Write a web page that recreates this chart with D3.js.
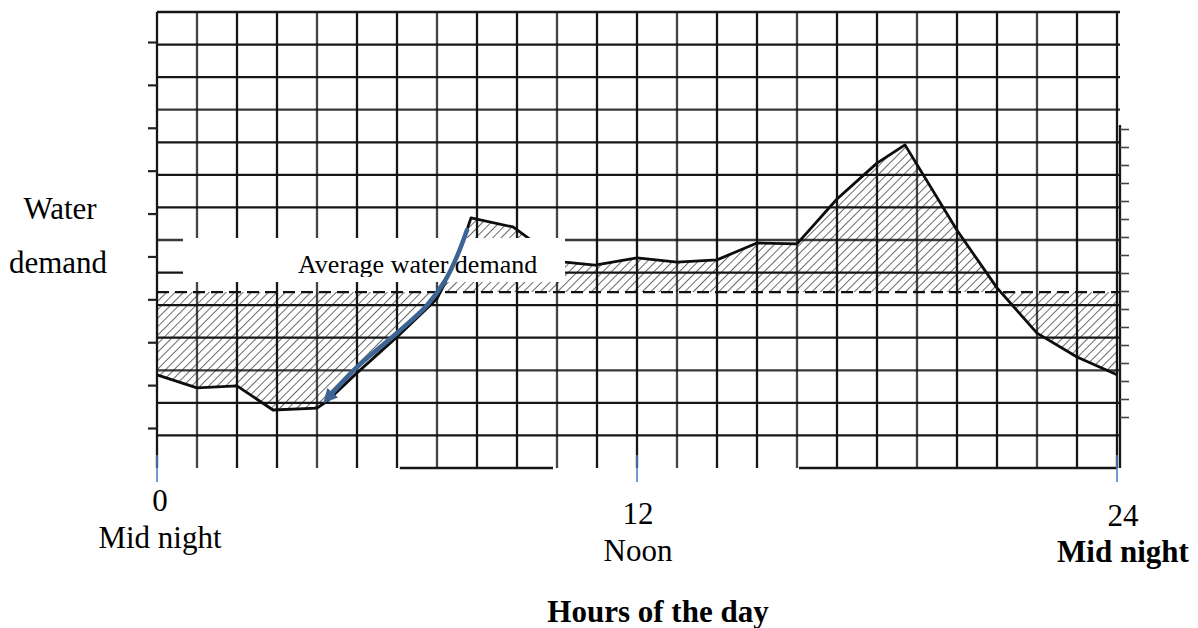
<!DOCTYPE html>
<html>
<head>
<meta charset="utf-8">
<script src="https://cdn.jsdelivr.net/npm/d3@7"></script>
<style>
  html, body { margin: 0; padding: 0; background: #fff; }
  svg { display: block; }
  text { font-family: "Liberation Serif", "Times New Roman", serif; fill: #000; }
</style>
</head>
<body>
<svg id="chart" width="1198" height="628"></svg>
<script>
// ---- data ----
const hours  = [0, 1, 2, 2.9, 4, 4.25, 5, 6, 7, 7.5, 7.85, 8.9, 9.25, 9.7, 10.2, 10.95, 12, 13, 14, 15, 16, 17, 18, 18.7, 20, 21, 22, 23, 24];
const demand = [2.86, 2.46, 2.52, 1.78, 1.84, 2.05, 2.92, 4.02, 5.2, 6.4, 7.68, 7.4, 7.09, 6.63, 6.32, 6.23, 6.45, 6.32, 6.39, 6.91, 6.88, 8.26, 9.36, 9.92, 7.3, 5.53, 4.14, 3.41, 2.86];
const averageDemand = 5.4;
const gridHours = d3.range(0, 25);
const gridLevels = d3.range(0, 15);
const xTickHours = [0, 12, 24];
const xTickLabels = ["0", "12", "24"];
const xSubLabels = ["Mid night", "Noon", "Mid night"];
const leftTickValues = [0, 1, 2, 3, 4, 5, 6, 7, 8, 9];
const rightTickValues = d3.range(0, 17);
const arrowHours  = [7.75, 7.5, 7.2, 6.75, 6.05, 5.0, 4.275];
const arrowLevels = [7.31, 6.5, 5.75, 5.0, 4.2, 3.1, 2.15];
const bottomEdgeSegments = [[6.07, 9.9], [16.05, 24]];

// ---- layout ----
const svg = d3.select("#chart");
const x = d3.scaleLinear().domain([0, 24]).range([157, 1117]);
const y = d3.scaleLinear().domain([0, 14]).range([468, 12]);
const yLeftTicks = d3.scaleLinear().domain([0, 9]).range([428, 42]);
const yRightTicks = d3.scaleLinear().domain([0, 16]).range([417, 129]);

// hatch pattern
const defs = svg.append("defs");
const pat = defs.append("pattern")
  .attr("id", "hatch").attr("patternUnits", "userSpaceOnUse")
  .attr("width", 6).attr("height", 6)
  .attr("patternTransform", "rotate(45)");
pat.append("line").attr("x1", 0).attr("y1", 0).attr("x2", 0).attr("y2", 6)
  .attr("stroke", "#2a2a2a").attr("stroke-width", 1.4);

defs.append("marker").attr("id", "arrowhead")
  .attr("viewBox", "0 0 10 10").attr("refX", 5).attr("refY", 5)
  .attr("markerWidth", 3.2).attr("markerHeight", 3.2)
  .attr("orient", "auto-start-reverse")
  .append("path").attr("d", "M0,0 L10,5 L0,10 z").attr("fill", "#3d6494");

defs.append("clipPath").attr("id", "labelClip")
  .append("rect").attr("x", 183).attr("y", 238).attr("width", 382).attr("height", 39);

// hatched area between demand curve and average
const pts = hours.map((h, i) => [h, demand[i]]);
svg.append("path")
  .datum(pts)
  .attr("fill", "url(#hatch)")
  .attr("d", d3.area().x(d => x(d[0])).y0(y(averageDemand)).y1(d => y(d[1])));

// grid
const grid = svg.append("g").attr("stroke", "#161616").attr("stroke-width", 2.3);
grid.selectAll("line.v").data(gridHours).enter().append("line")
  .attr("x1", d => x(d)).attr("x2", d => x(d))
  .attr("y1", y(14)).attr("y2", y(0))
  .attr("stroke-opacity", (d, i) => (i % 3 === 1 ? 0.8 : 1));
grid.selectAll("line.h").data(gridLevels.filter(d => d > 0)).enter().append("line")
  .attr("x1", x(0)).attr("x2", x(24) + 3)
  .attr("y1", d => y(d)).attr("y2", d => y(d))
  .attr("stroke-opacity", (d, i) => (i % 4 === 2 ? 0.85 : 1));
grid.selectAll("line.b").data(bottomEdgeSegments).enter().append("line")
  .attr("x1", d => x(d[0])).attr("x2", d => x(d[1]))
  .attr("y1", y(0)).attr("y2", y(0));
grid.append("line")
  .attr("x1", x(24) + 3).attr("x2", x(24) + 3)
  .attr("y1", yRightTicks(16) - 4).attr("y2", y(0));

// left & right tick marks
svg.append("g").attr("transform", `translate(${x(0)},0)`)
  .call(d3.axisLeft(yLeftTicks).tickValues(leftTickValues).tickSize(9).tickSizeOuter(0).tickFormat(""))
  .call(g => g.select(".domain").remove())
  .call(g => g.selectAll("line").attr("stroke", "#222").attr("stroke-width", 2.2));
svg.append("g").attr("transform", `translate(${x(24) + 3},0)`)
  .call(d3.axisRight(yRightTicks).tickValues(rightTickValues).tickSize(9).tickSizeOuter(0).tickFormat(""))
  .call(g => g.select(".domain").remove())
  .call(g => g.selectAll("line").attr("stroke", "#444").attr("stroke-width", 1.6));

// average line (dashed)
svg.append("line")
  .attr("x1", x(0)).attr("x2", x(24) + 3)
  .attr("y1", y(averageDemand)).attr("y2", y(averageDemand))
  .attr("stroke", "#111").attr("stroke-width", 2.2)
  .attr("stroke-dasharray", "12,6");

// demand curve
svg.append("path")
  .datum(pts)
  .attr("fill", "none").attr("stroke", "#0d0d0d").attr("stroke-width", 2.8)
  .attr("stroke-linejoin", "round")
  .attr("d", d3.line().x(d => x(d[0])).y(d => y(d[1])));

// white label box
svg.append("rect").attr("x", 183).attr("y", 238).attr("width", 382).attr("height", 44).attr("fill", "#fff");
svg.append("text").attr("clip-path", "url(#labelClip)")
  .attr("x", 298).attr("y", 273).attr("font-size", 26)
  .text("Average water demand");

// blue arrow
const arrowPts = arrowHours.map((h, i) => [h, arrowLevels[i]]);
svg.append("path").datum(arrowPts)
  .attr("fill", "none").attr("stroke", "#3d6494").attr("stroke-width", 4.5)
  .attr("stroke-linecap", "round")
  .attr("marker-end", "url(#arrowhead)")
  .attr("d", d3.line().x(d => x(d[0])).y(d => y(d[1])).curve(d3.curveCatmullRom));

// blue x ticks
svg.selectAll("line.bt").data(xTickHours).enter().append("line")
  .attr("x1", d => x(d)).attr("x2", d => x(d))
  .attr("y1", 455).attr("y2", 482)
  .attr("stroke", "#4f81bd").attr("stroke-width", 1.6);

// x tick labels
const labBase = [511, 524, 526];
const subBase = [548, 561, 562];
const labDx = [3, 1, 6];
svg.selectAll("text.xl").data(xTickHours).enter().append("text")
  .attr("x", (d, i) => x(d) + labDx[i]).attr("y", (d, i) => labBase[i])
  .attr("text-anchor", "middle").attr("font-size", 31)
  .text((d, i) => xTickLabels[i]);
svg.selectAll("text.xs").data(xTickHours).enter().append("text")
  .attr("x", (d, i) => x(d) + labDx[i]).attr("y", (d, i) => subBase[i])
  .attr("text-anchor", "middle").attr("font-size", 31)
  .attr("font-weight", (d, i) => (i === 2 ? "bold" : "normal"))
  .text((d, i) => xSubLabels[i]);

// axis titles
svg.append("text").attr("x", 658).attr("y", 622).attr("text-anchor", "middle")
  .attr("font-size", 31).attr("font-weight", "bold").text("Hours of the day");
svg.append("text").attr("x", 60).attr("y", 219).attr("text-anchor", "middle")
  .attr("font-size", 31).text("Water");
svg.append("text").attr("x", 58).attr("y", 273).attr("text-anchor", "middle")
  .attr("font-size", 31).text("demand");
</script>
</body>
</html>
